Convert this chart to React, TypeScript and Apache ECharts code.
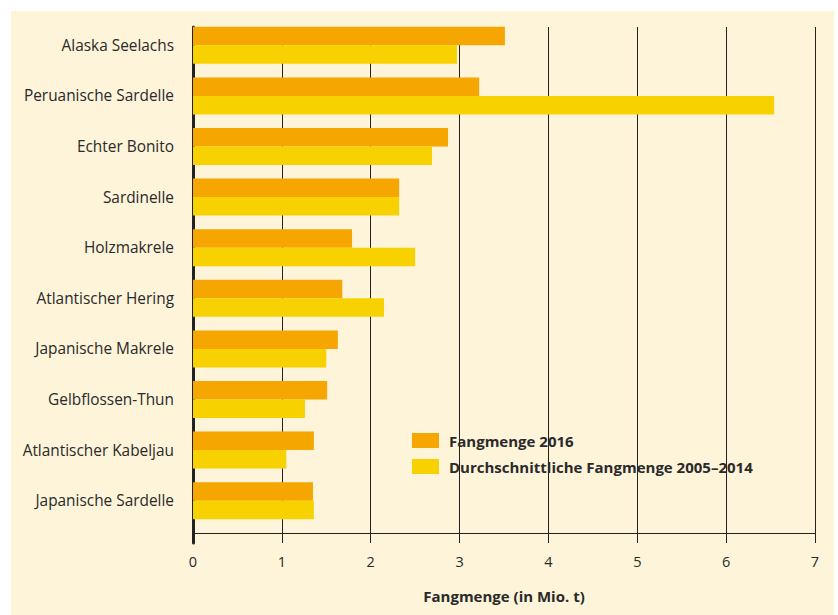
import React, { useEffect, useRef } from "react";
import * as echarts from "echarts";

const categories = [
  "Alaska Seelachs",
  "Peruanische Sardelle",
  "Echter Bonito",
  "Sardinelle",
  "Holzmakrele",
  "Atlantischer Hering",
  "Japanische Makrele",
  "Gelbflossen-Thun",
  "Atlantischer Kabeljau",
  "Japanische Sardelle",
];
const catch2016 = [3.51, 3.22, 2.87, 2.32, 1.79, 1.68, 1.63, 1.51, 1.36, 1.35];
const avg20052014 = [2.97, 6.54, 2.69, 2.32, 2.5, 2.15, 1.5, 1.26, 1.05, 1.36];
const seriesNames = ["Fangmenge 2016", "Durchschnittliche Fangmenge 2005–2014"];
const xTicks = { min: 0, max: 7, interval: 1 };
const axisTitle = "Fangmenge (in Mio. t)";

const FONT = "'Open Sans', 'Noto Sans', sans-serif";
const TEXT = "#2a2a2a";
const LINE = "#222222";
const ORANGE = "#f6a600";
const YELLOW = "#f7d200";
const CREAM = "#fdf4d9";

export default function App() {
  const ref = useRef<HTMLDivElement>(null);
  useEffect(() => {
    if (!ref.current) return;
    const chart = echarts.init(ref.current, null, { renderer: "svg" });
    const W = 838;
    const H = 615;
    chart.setOption({
      animation: false,
      backgroundColor: "#ffffff",
      graphic: [
        {
          type: "rect",
          z: -10,
          silent: true,
          shape: { x: 11, y: 11, width: W - 11 - 4, height: H - 11 },
          style: { fill: CREAM },
        },
      ],
      legend: {
        orient: "vertical",
        left: 412,
        top: 433,
        padding: 0,
        itemWidth: 27,
        itemHeight: 15,
        itemGap: 11,
        icon: "rect",
        textStyle: {
          fontFamily: FONT,
          fontSize: 15,
          fontWeight: "bold",
          color: TEXT,
          padding: [0, 0, 0, 5],
        },
        data: seriesNames,
      },
      grid: [
        { left: 193, right: 23, top: 20, bottom: 89 },
        { left: 193, right: 23, top: 27, bottom: 82 },
        { left: 193, right: 23, top: 27, bottom: 72 },
      ],
      xAxis: [
        {
          gridIndex: 0,
          type: "value",
          min: xTicks.min,
          max: xTicks.max,
          interval: xTicks.interval,
          show: false,
        },
        {
          gridIndex: 1,
          type: "value",
          min: xTicks.min,
          max: xTicks.max,
          interval: xTicks.interval,
          name: axisTitle,
          nameLocation: "middle",
          nameGap: 55,
          nameTextStyle: {
            fontFamily: FONT,
            fontSize: 15,
            fontWeight: "bold",
            color: TEXT,
          },
          axisLine: { show: true, lineStyle: { color: LINE, width: 1 } },
          axisTick: { show: true, length: 10, lineStyle: { color: LINE, width: 1 } },
          axisLabel: {
            margin: 21,
            fontFamily: FONT,
            fontSize: 14.5,
            color: TEXT,
          },
          splitLine: { show: true, lineStyle: { color: LINE, width: 1 } },
        },
        {
          gridIndex: 2,
          type: "value",
          min: xTicks.min,
          max: xTicks.max,
          show: false,
        },
      ],
      yAxis: [
        {
          gridIndex: 0,
          type: "category",
          inverse: true,
          data: categories,
          axisLine: { show: false },
          axisTick: { show: false },
          axisLabel: {
            margin: 19,
            fontFamily: FONT,
            fontSize: 15.4,
            color: TEXT,
          },
          splitLine: { show: false },
        },
        {
          gridIndex: 1,
          type: "category",
          inverse: true,
          data: categories,
          show: false,
        },
        {
          gridIndex: 2,
          type: "category",
          inverse: true,
          data: categories,
          axisLine: { show: true, lineStyle: { color: LINE, width: 3 } },
          axisTick: { show: false },
          axisLabel: { show: false },
          splitLine: { show: false },
        },
      ],
      series: [
        {
          name: seriesNames[0],
          type: "bar",
          xAxisIndex: 0,
          yAxisIndex: 0,
          data: catch2016,
          barWidth: 18.5,
          barGap: "0%",
          itemStyle: { color: ORANGE },
          z: 3,
        },
        {
          name: seriesNames[1],
          type: "bar",
          xAxisIndex: 0,
          yAxisIndex: 0,
          data: avg20052014,
          barWidth: 18.5,
          barGap: "0%",
          itemStyle: { color: YELLOW },
          z: 3,
        },
      ],
    });
    return () => chart.dispose();
  }, []);
  return (
    <div
      style={{
        position: "absolute",
        left: 0,
        top: 0,
        width: 838,
        height: 615,
        background: "#ffffff",
      }}
    >
      <div ref={ref} style={{ width: 838, height: 615 }} />
    </div>
  );
}
